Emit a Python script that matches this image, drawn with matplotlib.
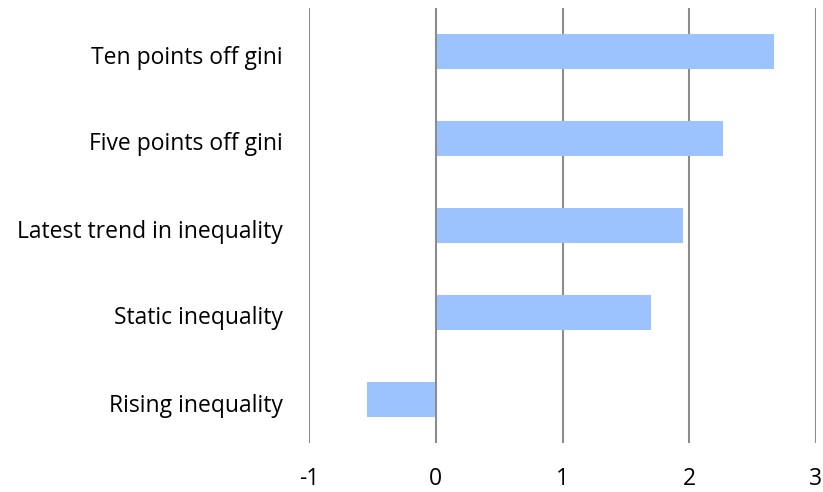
import matplotlib
matplotlib.use('Agg')
import matplotlib.pyplot as plt
from matplotlib.transforms import ScaledTranslation

categories = ['Rising inequality', 'Static inequality', 'Latest trend in inequality',
              'Five points off gini', 'Ten points off gini']
values = [-0.54, 1.70, 1.95, 2.27, 2.67]
xticks = [-1, 0, 1, 2, 3]

plt.rcParams['font.family'] = ['Open Sans', 'DejaVu Sans']

fig = plt.figure(figsize=(8.23, 4.92), dpi=100)
ax = fig.add_axes([309 / 823, 1 - 443 / 492, (816 - 309) / 823, 435 / 492])

ax.barh(range(len(categories)), values, height=0.4, color='#9DC3FF', zorder=2)
for x in xticks:
    ax.axvline(x, color='#8C8C8C', linewidth=1.5, zorder=3 if x == 0 else 1)

ax.set_xlim(-1, 3)
ax.set_ylim(-0.5, len(categories) - 0.5)
ax.set_xticks(xticks)
ax.set_xticklabels([str(x) for x in xticks])
ax.set_yticks(range(len(categories)))
ax.set_yticklabels(categories)
ax.tick_params(length=0, labelsize=16.5, colors='black')
ax.tick_params(axis='x', pad=17)
ax.tick_params(axis='y', pad=19)
# nudge category labels down a little, as in the original
shift = ScaledTranslation(0, -3 / 100, fig.dpi_scale_trans)
for lab in ax.get_yticklabels():
    lab.set_transform(lab.get_transform() + shift)
for s in ax.spines.values():
    s.set_visible(False)

fig.savefig('out.png', dpi=100)
